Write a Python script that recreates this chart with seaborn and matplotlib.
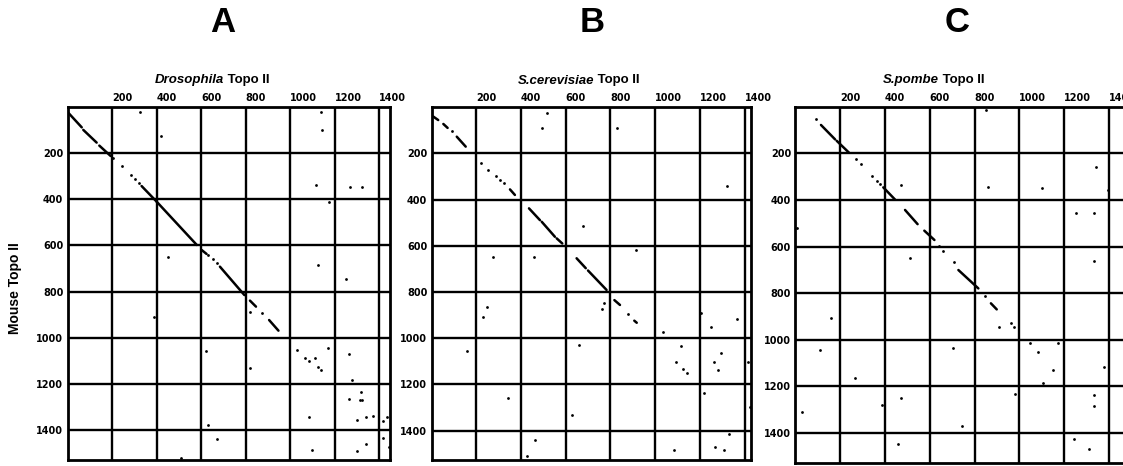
import matplotlib
matplotlib.use('Agg')
import matplotlib.pyplot as plt
import seaborn as sns

sns.set_style('white')
plt.rcParams['font.family'] = ['Liberation Sans', 'DejaVu Sans']
plt.rcParams['text.color'] = 'black'
plt.rcParams['xtick.color'] = 'black'
plt.rcParams['ytick.color'] = 'black'

ticks = [200, 400, 600, 800, 1000, 1200, 1400]
tick_labels = ['200', '400', '600', '800', '1000', '1200', '1400']
mouse_len = 1528

# panel A: Drosophila Topo II vs mouse Topo II
a_len = 1447
a_seg_x0 = [0, 71, 143, 333, 401, 603, 685, 820, 906]
a_seg_y0 = [22, 100, 168, 343, 411, 620, 692, 839, 923]
a_seg_x1 = [64, 131, 194, 401, 581, 625, 795, 847, 948]
a_seg_y1 = [89, 155, 213, 411, 598, 637, 815, 865, 969]
a_dot_x = [206, 243, 284, 303, 323, 633, 652, 670, 873,
           326, 1139, 1145, 419, 1117, 1270, 1325, 1174, 450, 1127, 1252,
           389, 820, 623, 820, 1033, 1067, 1087, 1112, 1127, 1139, 1172, 1267,
           1280, 1319, 1267, 1314, 1323, 1087, 1302, 1341, 1374, 1416, 1437,
           630, 673, 1100, 1302, 1341, 1416, 1446, 510]
a_dot_y = [223, 256, 295, 314, 331, 642, 660, 678, 894,
           21, 24, 100, 125, 340, 346, 346, 411, 649, 685, 745,
           911, 887, 1057, 1132, 1053, 1086, 1100, 1089, 1128, 1139, 1046, 1070,
           1183, 1236, 1266, 1269, 1269, 1341, 1356, 1344, 1337, 1359, 1341,
           1378, 1438, 1487, 1489, 1460, 1432, 1471, 1519]

# panel B: S.cerevisiae Topo II vs mouse Topo II
b_len = 1429
b_seg_x0 = [8, 53, 113, 351, 436, 493, 560, 649, 700, 818, 907]
b_seg_y0 = [41, 73, 128, 356, 438, 496, 568, 654, 707, 835, 924]
b_seg_x1 = [30, 72, 153, 373, 485, 552, 585, 690, 783, 843, 918]
b_seg_y1 = [56, 90, 171, 380, 489, 561, 590, 697, 791, 856, 933]
b_dot_x = [90, 221, 254, 287, 306, 326, 880,
           515, 493, 831, 1322, 679, 277, 460, 915,
           247, 232, 771, 764, 1034, 1250, 1365, 1205, 160, 660, 1117, 1092,
           1123, 1141, 1293, 1262, 1280, 1417, 341, 627, 1219, 1424, 463, 426,
           1086, 1268, 1308, 1332]
b_dot_y = [105, 241, 272, 298, 315, 330, 897,
           24, 89, 89, 341, 513, 647, 647, 618,
           863, 907, 849, 875, 971, 950, 917, 892, 1055, 1029, 1035, 1101,
           1133, 1149, 1065, 1101, 1137, 1101, 1260, 1332, 1235, 1299, 1440, 1509,
           1483, 1469, 1483, 1414]

# panel C: S.pombe Topo II vs mouse Topo II
c_len = 1485
c_seg_x0 = [115, 185, 393, 490, 576, 728, 873]
c_seg_y0 = [78, 146, 346, 443, 532, 701, 844]
c_seg_x1 = [178, 240, 445, 546, 621, 817, 899]
c_seg_y1 = [140, 197, 398, 504, 572, 780, 870]
c_dot_x = [91, 270, 294, 344, 363, 378, 641, 661, 710, 847, 911, 961, 978,
           472, 862, 1102, 1340, 1394, 1251, 1334, 10, 512, 1334, 851,
           158, 111, 705, 1047, 1082, 1171, 1152, 1104, 1379, 267, 472, 389,
           32, 981, 1334, 1333, 743, 460, 1242, 1311, 1360]
c_dot_y = [52, 226, 246, 297, 319, 333, 598, 618, 668, 813, 944, 930, 947,
           336, 343, 350, 260, 358, 458, 455, 522, 651, 663, 14,
           906, 1045, 1035, 1013, 1055, 1013, 1131, 1185, 1119, 1163, 1252, 1281,
           1312, 1235, 1238, 1285, 1371, 1449, 1427, 1471, 1532]

panels = [
    ('A', 'Drosophila', a_len, a_seg_x0, a_seg_y0, a_seg_x1, a_seg_y1, a_dot_x, a_dot_y),
    ('B', 'S.cerevisiae', b_len, b_seg_x0, b_seg_y0, b_seg_x1, b_seg_y1, b_dot_x, b_dot_y),
    ('C', 'S.pombe', c_len, c_seg_x0, c_seg_y0, c_seg_x1, c_seg_y1, c_dot_x, c_dot_y),
]

W, H = 1123, 466
fig = plt.figure(figsize=(W / 100, H / 100), dpi=100)

# axes boxes in pixels: left, top, width, height
boxes = [(67.5, 106.8, 322, 353), (431.5, 107.1, 319.5, 353.2), (795.2, 106.8, 332.9, 355.8)]
letter_x = [223, 592, 957]
title_x = [155, 518, 883]

for (letter, species, xlen, sx0, sy0, sx1, sy1, dx, dy), box, lx, tx in zip(panels, boxes, letter_x, title_x):
    left, top, w, h = box
    ax = fig.add_axes([left / W, 1 - (top + h) / H, w / W, h / H])

    for x0, y0, x1, y1 in zip(sx0, sy0, sx1, sy1):
        ax.plot([x0, x1], [y0, y1], color='black', lw=1.8, solid_capstyle='round')
    sns.scatterplot(x=dx, y=dy, ax=ax, color='black', s=4, linewidth=0, legend=False)

    ax.set_xlim(0, xlen)
    ax.set_ylim(mouse_len, 0)
    ax.xaxis.tick_top()
    ax.set_xticks(ticks, tick_labels, fontsize=7, fontweight='bold', family='DejaVu Sans', ha='left')
    ax.set_yticks(ticks, tick_labels, fontsize=7, fontweight='bold', family='DejaVu Sans')
    ax.tick_params(length=0, pad=3)
    ax.grid(True, color='black', linewidth=1.7)
    ax.set_xlabel('')
    ax.set_ylabel('')
    for s in ax.spines.values():
        s.set_linewidth(2)
        s.set_color('black')

    fig.text(lx / W, 1 - 23 / H, letter, fontsize=25, fontweight='bold', ha='center', va='center')
    t = fig.text(tx / W, 1 - 83.5 / H, species, fontsize=9.5, fontweight='bold', style='italic',
                 va='baseline', ha='left')
    ax.annotate(' Topo II', xy=(1, 0), xycoords=t, va='bottom', ha='left',
                fontsize=9.5, fontweight='bold', annotation_clip=False)

fig.text(15.5 / W, 1 - 288 / H, 'Mouse Topo II', rotation=90, fontsize=10, fontweight='bold',
         ha='center', va='center')

fig.savefig('out.png', dpi=100, facecolor='white')
